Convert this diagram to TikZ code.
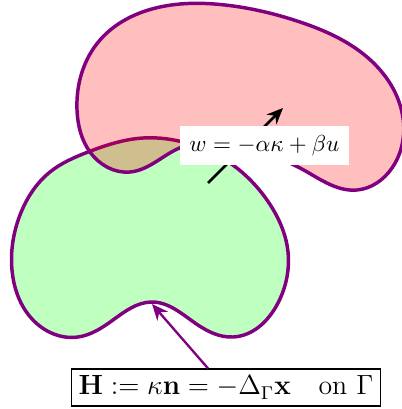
\documentclass[tikz,border=0pt]{standalone}
\usepackage{amsmath,bm}
\usetikzlibrary{arrows.meta, positioning, calc, hobby}
\definecolor{curvepurple}{RGB}{128,0,128}
\definecolor{oldgreen}{RGB}{0,255,0}
\definecolor{newred}{RGB}{255,0,0}

\begin{document}
\begin{tikzpicture}[x=0.0152cm, y=-0.0152cm,
    surface/.style={draw=curvepurple, line width=1.5pt, use Hobby shortcut, closed=true},
    oldphase/.style={surface, fill=oldgreen!25},
    newphase/.style={surface, fill=newred, fill opacity=0.25},
    velflow/.style={-{Stealth[length=7pt,width=6pt]}, line width=1.2pt, black},
    curvflow/.style={-{Stealth[length=7pt,width=6pt]}, line width=1pt, color=curvepurple},
    lab/.style={fill=white, inner sep=4pt},
    eqbox/.style={draw=black, fill=white, line width=0.5pt, inner sep=3pt, font=\large},
]
\useasboundingbox (0,0) rectangle (401,409);

%---------------------------------------------------------------
% Initial domain (green) and evolved domain (red, on top)
%---------------------------------------------------------------
\draw[oldphase] (88,152) .. (143,138) .. (190,144) .. (230,163) .. (267,200)
    .. (288,252) .. (278,303) .. (233,337) .. (195,323) .. (152,302)
    .. (113,320) .. (78,337) .. (33,320) .. (12,270) .. (20,215) .. (50,172);
\coordinate (dip) at (152,304);

\draw[newphase] (77,110) .. (100,40) .. (160,7) .. (225,5) .. (300,22)
    .. (367,57) .. (403,118) .. (392,168) .. (357,190) .. (300,168)
    .. (240,148) .. (182,147) .. (130,172) .. (90,152);

%---------------------------------------------------------------
% Normal velocity of the interface
%---------------------------------------------------------------
\coordinate (vstart) at (208,183);
\coordinate (vend) at (283,108);
\draw[velflow] (vstart) -- (vend);
\node[lab] (vlaw) at (264.5,145.5) {$w = -\alpha\kappa + \beta u$};

%---------------------------------------------------------------
% Mean curvature vector
%---------------------------------------------------------------
\node[eqbox] (hdef) at (226,387.5)
     {$\mathbf{H} := \kappa\mathbf{n} = -\Delta_{\Gamma}\mathbf{x} \quad \text{on } \Gamma$};
\draw[curvflow] (hdef.north -| vstart) -- (dip);

\end{tikzpicture}
\end{document}
